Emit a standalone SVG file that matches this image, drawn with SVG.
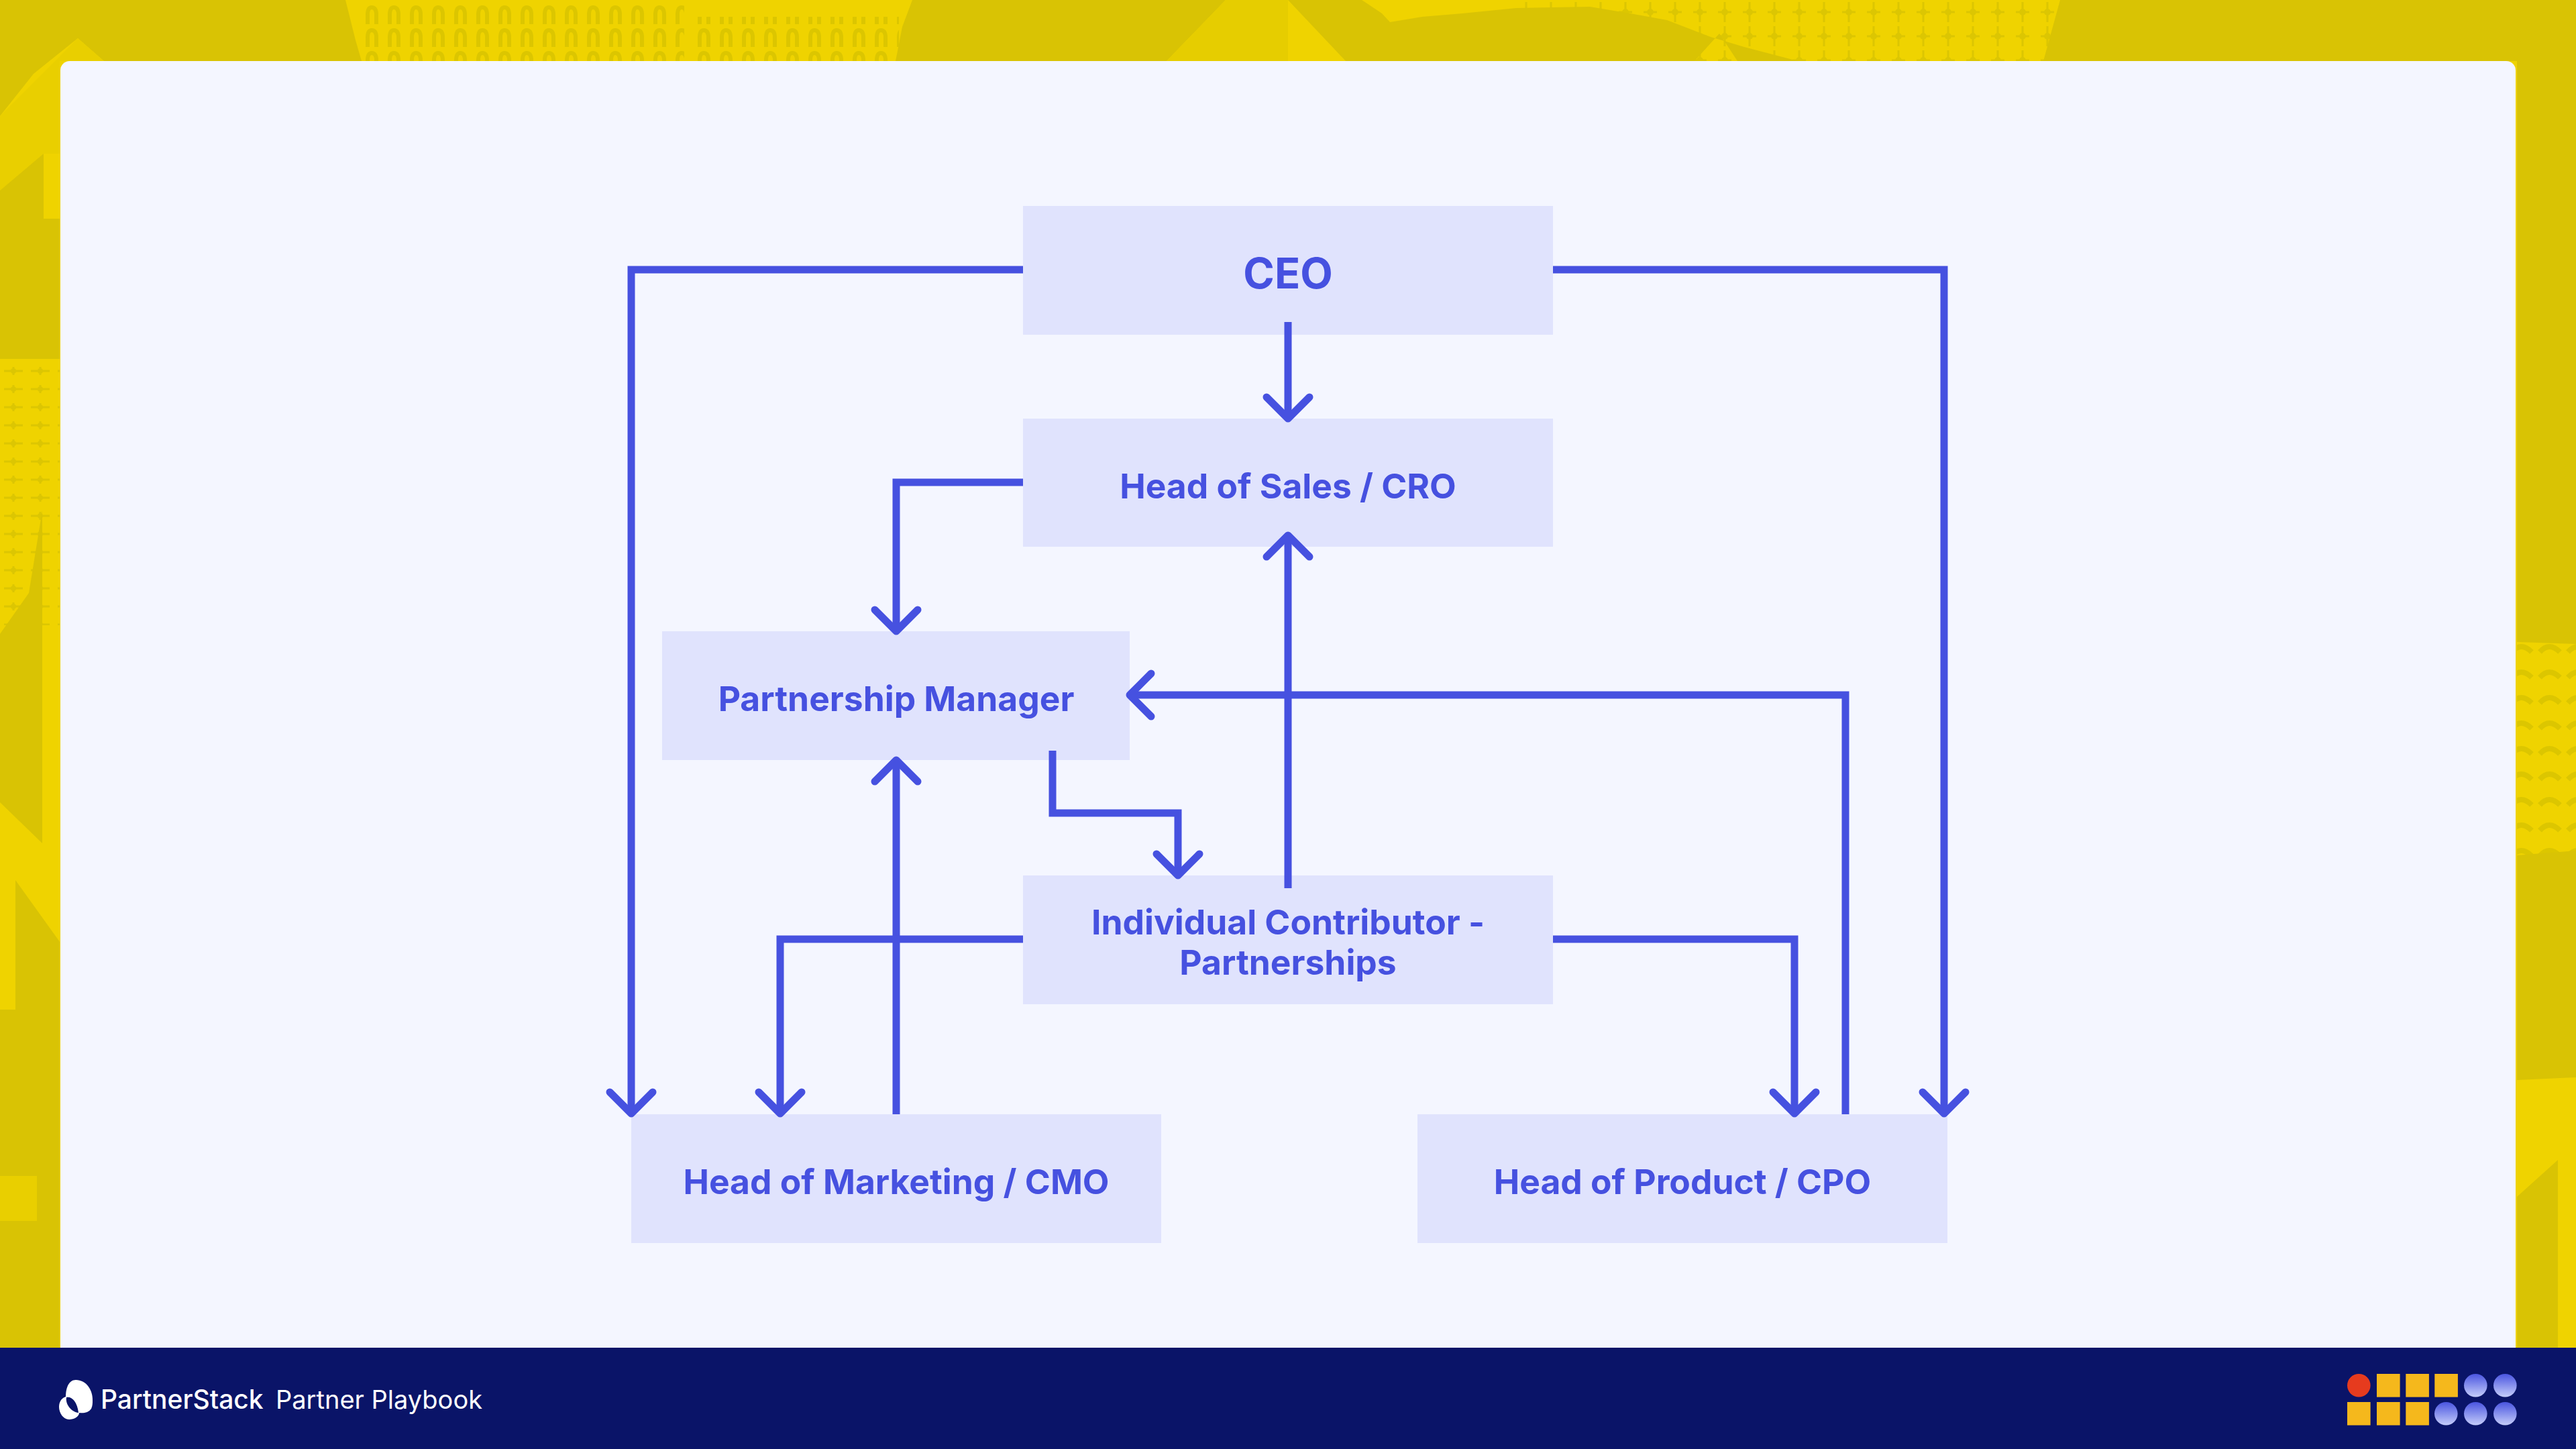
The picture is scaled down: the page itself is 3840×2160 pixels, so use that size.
<svg xmlns="http://www.w3.org/2000/svg" width="3840" height="2160" viewBox="0 0 3840 2160">
<style>
.dk{fill:#d9c304}
.nb{fill:#e0e3fd}
.lb{font-family:Inter,"Liberation Sans",sans-serif;font-weight:700;font-size:51.5px;fill:#4651e0;text-anchor:middle}
.cn{fill:none;stroke:#4651e0;stroke-width:11;stroke-linejoin:miter}
.ar{marker-end:url(#ah)}
.ft{font-family:Inter,"Liberation Sans",sans-serif;fill:#fff}
.bl{fill:url(#bg)}
.sq{fill:#f5b81c}
</style>
<defs>
<marker id="ah" markerUnits="userSpaceOnUse" markerWidth="100" markerHeight="100" refX="50" refY="50" orient="auto" overflow="visible" viewBox="0 0 100 100">
<path d="M22 18L54 50L22 82" fill="none" stroke="#4651e0" stroke-width="11" stroke-linecap="round" stroke-linejoin="round"/>
</marker>
<linearGradient id="bg" x1="0" y1="0" x2="0" y2="1"><stop offset="0" stop-color="#4a55e0"/><stop offset="1" stop-color="#c5cdfa"/></linearGradient>
<pattern id="arch" x="540" y="8" width="33" height="34" patternUnits="userSpaceOnUse"><path d="M8 28V14Q8 3 14 3Q21 3 21 14V28" fill="none" stroke="#dcc600" stroke-width="6"/></pattern>
<pattern id="plus" width="37" height="36" patternUnits="userSpaceOnUse"><path d="M18 3V33M8 18H28" fill="none" stroke="#dcc602" stroke-width="3"/><circle cx="18" cy="18" r="5" fill="#dcc602"/></pattern>
<pattern id="hplus" width="40" height="27" patternUnits="userSpaceOnUse"><path d="M6 13H34M20 7V19" fill="none" stroke="#dcc602" stroke-width="3"/><circle cx="20" cy="13" r="4" fill="#dcc602"/></pattern>
<pattern id="arc" width="42" height="38" patternUnits="userSpaceOnUse"><path d="M6 22Q20 6 36 22" fill="none" stroke="#dcc600" stroke-width="8"/></pattern>
</defs>
<rect width="3840" height="2160" fill="#efd300"/>
<g id="background">
<rect x="540" y="8" width="480" height="83" fill="url(#arch)"/>
<rect x="1040" y="25" width="300" height="66" fill="url(#arch)"/>
<rect x="2250" y="0" width="820" height="91" fill="url(#plus)"/>
<rect x="0" y="535" width="89" height="397" fill="url(#hplus)"/>
<rect x="3752" y="960" width="88" height="315" fill="url(#arc)"/>
<path class="dk" d="M0 0H515L530 60L539 91H155L116 57L50 110L0 173Z"/>
<path class="dk" d="M1360 0H1827L1739 91H1335L1345 40Z"/>
<path d="M1827 0H1920V91H1739Z" fill="#e6cd00"/>
<path class="dk" d="M1920 0H2030L2060 20L2072 33L2120 25L2180 20L2260 12L2370 10L2430 20L2485 30L2550 55L2600 70L2680 91H2590L2563 50L2526 91H2006Z"/>
<path class="dk" d="M3071 0H3840V960L3752 957V91H3046Z"/>
<path class="dk" d="M3752 1275L3840 1268V1606L3752 1610Z"/>
<path class="dk" d="M3752 1784L3813 1729V2010H3752Z"/>
<path d="M0 173L116 57L155 91H89V229L65 229L0 284Z" fill="#e9cf00"/>
<path class="dk" d="M0 284L65 229V326H89V535H0Z"/>
<path class="dk" d="M0 945L43 884L63 761V1257L0 1196Z"/>
<path class="dk" d="M23 1312L89 1404V2010H0V1505H23Z"/>
<rect x="0" y="1753" width="55" height="67" fill="#e9cf00"/>
</g>
<rect id="card" x="90" y="91" width="3660" height="2000" rx="14" fill="#f4f6ff"/>
<rect id="footer" x="0" y="2009" width="3840" height="151" fill="#0a1468"/>
<g id="node-ceo"><rect class="nb" x="1525" y="307" width="790" height="192"/><text class="lb" style="font-size:63px" x="1920" y="430">CEO</text></g>
<g id="node-sales"><rect class="nb" x="1525" y="624" width="790" height="191"/><text class="lb" x="1920" y="743">Head of Sales / CRO</text></g>
<g id="node-pm"><rect class="nb" x="987" y="941" width="697" height="192"/><text class="lb" x="1336" y="1060">Partnership Manager</text></g>
<g id="node-ic"><rect class="nb" x="1525" y="1305" width="790" height="192"/><text class="lb"><tspan x="1920" y="1393">Individual Contributor -</tspan><tspan x="1920" y="1453">Partnerships</tspan></text></g>
<g id="node-marketing"><rect class="nb" x="941" y="1661" width="790" height="192"/><text class="lb" x="1336" y="1780">Head of Marketing / CMO</text></g>
<g id="node-product"><rect class="nb" x="2113" y="1661" width="790" height="192"/><text class="lb" x="2508" y="1780">Head of Product / CPO</text></g>
<g id="connectors">
<path class="cn ar" d="M1525 402H941V1656"/>
<path class="cn ar" d="M2315 402H2898V1656"/>
<path class="cn ar" d="M1920 480V620"/>
<path class="cn ar" d="M1525 719H1336V937"/>
<path class="cn ar" d="M1920 1324V802"/>
<path class="cn ar" d="M1569 1119V1212H1756V1301"/>
<path class="cn ar" d="M1336 1661V1137"/>
<path class="cn ar" d="M1525 1400H1163V1656"/>
<path class="cn ar" d="M2315 1400H2675V1656"/>
<path class="cn ar" d="M2751 1661V1036H1688"/>
</g>
<g id="footer-brand">
<path d="M113 2057C128 2057 138 2071 138 2087C138 2091 138 2096 136 2100C132 2106 124 2107 118 2106C106 2103 98 2092 98 2082C98 2068 103 2057 113 2057Z" fill="#fff"/>
<path d="M100 2082C110 2082 118 2092 118 2106C118 2112 110 2116 103 2116C94 2116 88 2106 88 2097C88 2089 93 2082 100 2082Z" fill="#fff"/>
<path d="M99 2083C106 2081 115 2088 117 2106C107 2105 97 2094 99 2083Z" fill="#0a1468"/>
<text class="ft" x="150" y="2100" font-size="39" font-weight="500">PartnerStack</text>
<text class="ft" x="411" y="2100" font-size="38">Partner Playbook</text>
</g>
<g id="footer-icons">
<circle cx="3516.3" cy="2065.2" r="17.3" fill="#e63b1e"/>
<rect class="sq" x="3543" y="2048" width="34.6" height="34.6"/>
<rect class="sq" x="3586.3" y="2048" width="34.6" height="34.6"/>
<rect class="sq" x="3629.3" y="2048" width="34.6" height="34.6"/>
<circle class="bl" cx="3690.3" cy="2065.2" r="17.3"/>
<circle class="bl" cx="3734.3" cy="2065.2" r="17.3"/>
<rect class="sq" x="3499" y="2090" width="34.6" height="34.6"/>
<rect class="sq" x="3543" y="2090" width="34.6" height="34.6"/>
<rect class="sq" x="3586.3" y="2090" width="34.6" height="34.6"/>
<circle class="bl" cx="3646.3" cy="2107.3" r="17.3"/>
<circle class="bl" cx="3690.3" cy="2107.3" r="17.3"/>
<circle class="bl" cx="3734.3" cy="2107.3" r="17.3"/>
</g>
</svg>
